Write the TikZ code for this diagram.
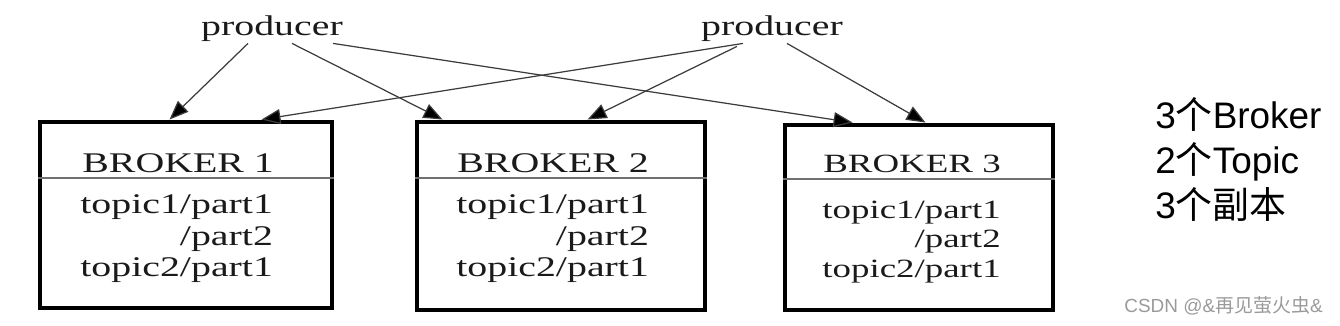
\documentclass[tikz,border=0pt]{standalone}
\usepackage{fontspec}
\usetikzlibrary{arrows.meta,calc}
\newfontfamily\serfont[FakeStretch=1.4]{Liberation Serif}
\newfontfamily\notefont{Liberation Sans}
\newfontfamily\cjk{Noto Sans CJK SC}
\definecolor{InkGray}{HTML}{1A1A1A}
\definecolor{WireGray}{HTML}{3C3C3C}
\definecolor{RuleGray}{HTML}{707070}
\definecolor{MarkGray}{HTML}{9A9A9A}
\tikzset{
  brokerbox/.style={draw=black, line width=2.8pt, inner sep=0pt},
  rule/.style={draw=RuleGray, line width=0.8pt},
  serif/.style={inner sep=0pt, text=InkGray, font=\serfont\fontsize{16.2}{18}\selectfont},
  serifsmall/.style={serif, font=\serfont\fontsize{15}{17}\selectfont},
  note/.style={inner sep=0pt, text=black, font=\notefont\fontsize{21}{25}\selectfont},
  watermark/.style={inner sep=0pt, text=MarkGray, font=\notefont\fontsize{10.8}{12}\selectfont},
  arrow/.style={-{Triangle[length=3.8mm, width=3mm, fill=black]}, line width=0.7pt, draw=WireGray}
}
\begin{document}
\begin{tikzpicture}[x=0.2mm, y=-0.2mm]
  \useasboundingbox (0,0) rectangle (1340,325);
  % producers
  \node[serif, anchor=base] (p1) at (272,35) {producer};
  \node[serif, anchor=base] (p2) at (772,35) {producer};

  % brokers
  \node[brokerbox, minimum width=58.4mm, minimum height=37.2mm] (b1) at (186,215) {};
  \node[brokerbox, minimum width=57.6mm, minimum height=37.6mm] (b2) at (561,216) {};
  \node[brokerbox, minimum width=53.6mm, minimum height=37mm] (b3) at (919,217.5) {};
  \draw[rule] (b1.west |- 0,178) -- (b1.east |- 0,178);
  \draw[rule] (b2.west |- 0,178) -- (b2.east |- 0,178);
  \draw[rule] (b3.west |- 0,179) -- (b3.east |- 0,179);

  \node[serif, anchor=base west] (b1t) at (82,172) {BROKER 1};
  \node[serif, anchor=base west] (b1a) at (80,213) {topic1/part1};
  \node[serif, anchor=base east] (b1b) at (b1a.east |- 0,245) {/part2};
  \node[serif, anchor=base west] (b1c) at (80,276) {topic2/part1};

  \node[serif, anchor=base west] (b2t) at (457,172) {BROKER 2};
  \node[serif, anchor=base west] (b2a) at (456,213) {topic1/part1};
  \node[serif, anchor=base east] (b2b) at (b2a.east |- 0,245) {/part2};
  \node[serif, anchor=base west] (b2c) at (456,276) {topic2/part1};

  \node[serifsmall, anchor=base west] (b3t) at (823,172) {BROKER 3};
  \node[serifsmall, anchor=base west] (b3a) at (822,218) {topic1/part1};
  \node[serifsmall, anchor=base east] (b3b) at (b3a.east |- 0,247) {/part2};
  \node[serifsmall, anchor=base west] (b3c) at (822,277) {topic2/part1};

  % producer -> broker
  \draw[arrow] ($(p1.south)+(-24,2)$) -- ($(b1.north west)+(132,0)$);
  \draw[arrow] ($(p1.south)+(20,2)$) -- ($(b2.north west)+(28,0)$);
  \draw[arrow] ($(p1.south)+(61,2)$) -- ($(b3.north west)+(70,0)$);
  \draw[arrow] ($(p2.south)+(-29,2)$) -- ($(b1.north west)+(224,0)$);
  \draw[arrow] ($(p2.south)+(-35,5)$) -- ($(b2.north west)+(173,0)$);
  \draw[arrow] ($(p2.south)+(15,2)$) -- ($(b3.north west)+(143,0)$);

  % summary
  \node[note, anchor=base west] (n1) at (1155,128) {3{\cjk 个}Broker};
  \node[note, anchor=base west] (n2) at (1155,173) {2{\cjk 个}Topic};
  \node[note, anchor=base west] (n3) at (1155,218) {3{\cjk 个副本}};
  \node[watermark, anchor=base west] (wm) at (1124,312) {CSDN @\&{\cjk 再见萤火虫}\&};
\end{tikzpicture}
\end{document}
